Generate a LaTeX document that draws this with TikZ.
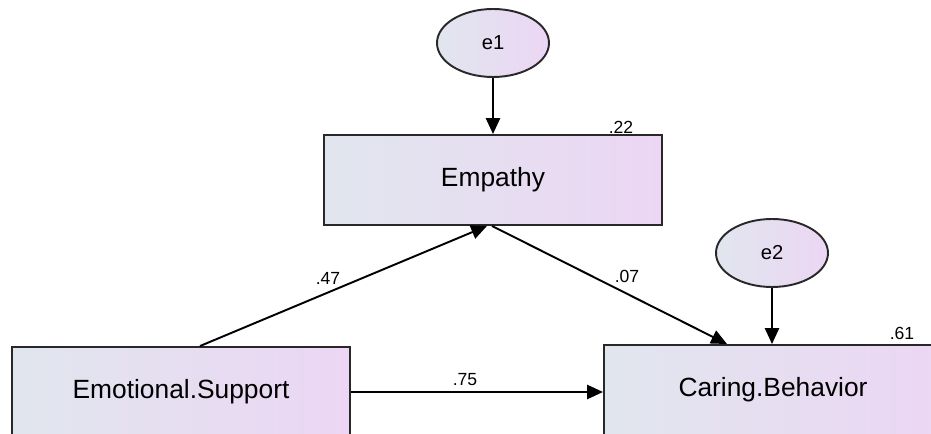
\documentclass[tikz,border=0pt]{standalone}
\usepackage{fontspec}
\setmainfont{Liberation Sans}
\usetikzlibrary{arrows.meta, shapes.geometric}
\definecolor{boxleft}{RGB}{225,230,238}
\definecolor{boxright}{RGB}{236,214,244}
\definecolor{edgegray}{RGB}{40,40,40}
\begin{document}
\begin{tikzpicture}[
            var/.style = {draw=edgegray, line width=1.1pt, left color=boxleft, right color=boxright,
                          minimum width=6.76cm, minimum height=1.8cm, inner sep=0mm,
                          font=\fontsize{15}{18}\selectfont},
            err/.style = {draw=edgegray, line width=1.1pt, ellipse, left color=boxleft, right color=boxright,
                          minimum width=2.24cm, minimum height=1.36cm, inner sep=0mm,
                          font=\fontsize{11.5}{14}\selectfont},
            coef/.style = {inner sep=0mm, font=\fontsize{10}{12}\selectfont},
            arr/.style = {draw=black, line width=1.1pt, -{Triangle[length=9pt, width=8pt]}},
        ]
        \useasboundingbox (0,0) rectangle (18.62,8.66);
        \clip (0,0) rectangle (18.62,8.66);

        \node (E1) [err] at (9.86, 7.80) {e1};
        \node (E2) [err] at (15.44, 3.60) {e2};

        \node (EMP) [var] at (9.86, 5.06) {Empathy};
        \node (ES) [var] at (3.62, 0.82) {Emotional.Support};
        \node (CB) [var] at (15.46, 0.86) {Caring.Behavior};

        \node (R1) [coef] at (12.42, 6.12) {.22};
        \node (R2) [coef] at (18.04, 2.00) {.61};
        \node (C1) [coef] at (6.56, 3.10) {.47};
        \node (C2) [coef] at (12.54, 3.14) {.07};
        \node (C3) [coef] at (9.30, 1.06) {.75};

        \path[arr] (E1) -- (EMP);
        \path[arr] (E2) -- (CB.north -| E2);

        \path[arr] ([xshift=0.38cm]ES.north) -- ([xshift=-0.12cm]EMP.south);
        \path[arr] ([xshift=-0.02cm]EMP.south) -- ([xshift=-0.92cm]CB.north);
        \path[arr] (ES.east) -- (CB.west |- ES.east);
    \end{tikzpicture}
\end{document}
